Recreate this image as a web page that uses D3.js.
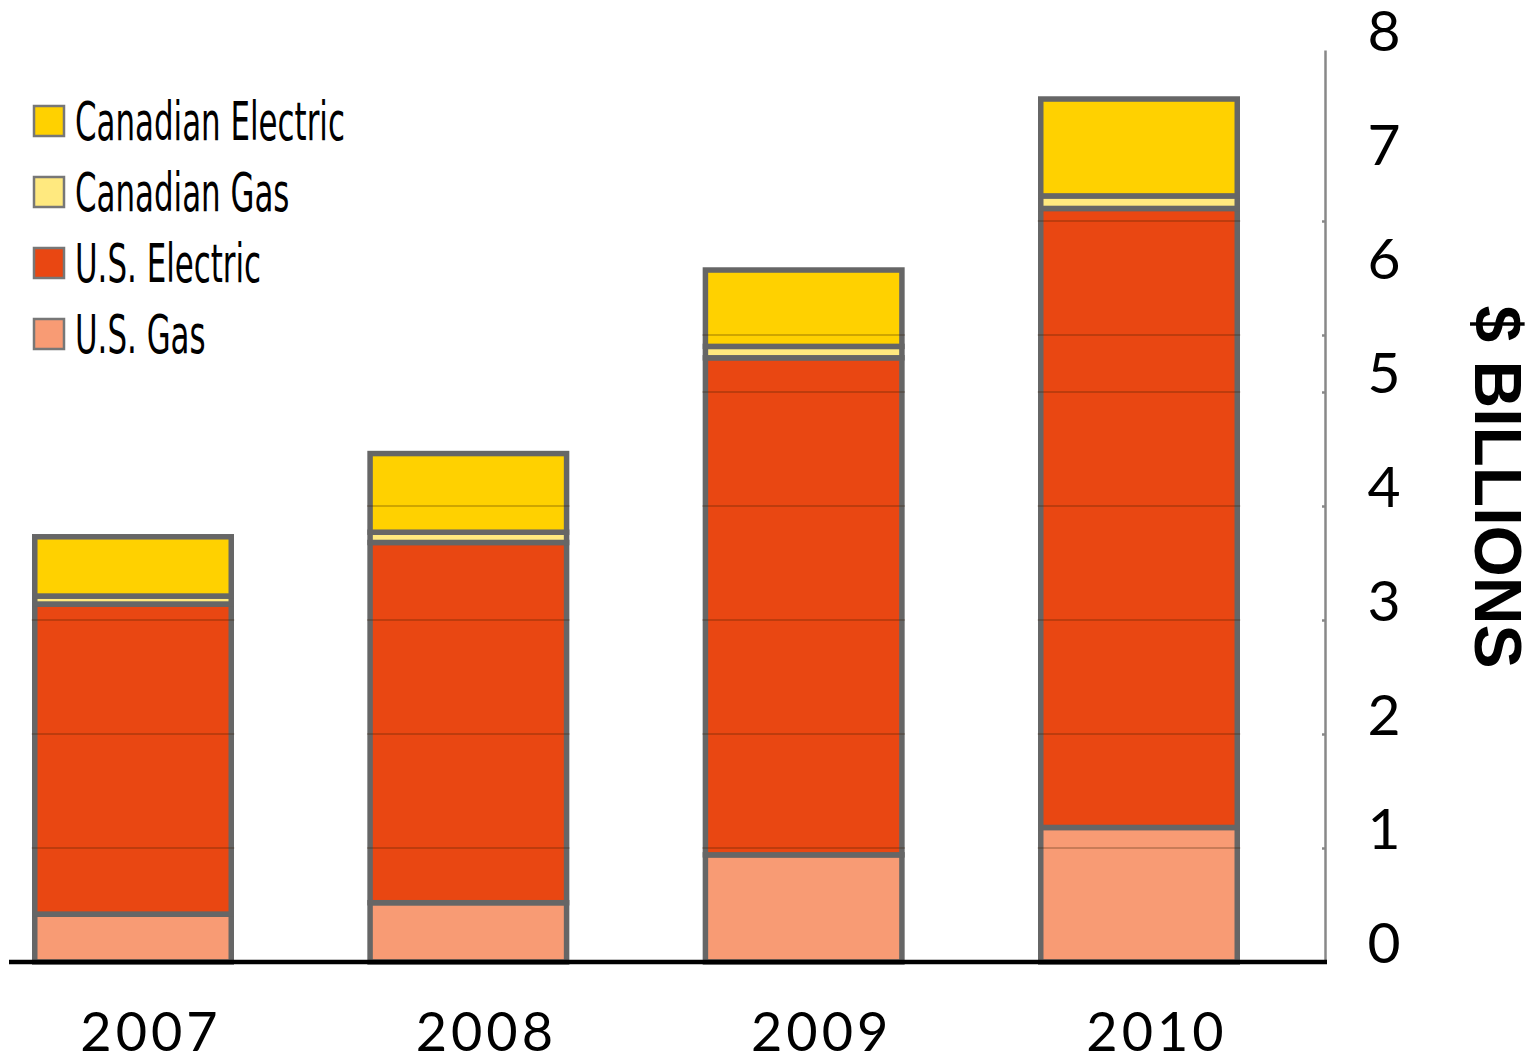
<!DOCTYPE html>
<html>
<head>
<meta charset="utf-8">
<script src="https://cdn.jsdelivr.net/npm/d3@7"></script>
<style>
  html, body { margin: 0; padding: 0; background: #ffffff; }
  svg { display: block; }
</style>
</head>
<body>
<svg id="chart" width="1532" height="1059"></svg>
<script>
// Capital spending by business segment, $ billions
const years = ["2007", "2008", "2009", "2010"];
const seriesKeys = ["U.S. Gas", "U.S. Electric", "Canadian Gas", "Canadian Electric"];
const usGas            = [0.42, 0.52, 0.94, 1.18];
const usElectric       = [2.72, 3.16, 4.36, 5.43];
const canadianGas      = [0.07, 0.09, 0.10, 0.11];
const canadianElectric = [0.52, 0.69, 0.67, 0.85];
const seriesColors = ["#f89b74", "#e94712", "#ffe97f", "#ffd100"];
const legendOrder = ["Canadian Electric", "Canadian Gas", "U.S. Electric", "U.S. Gas"];
const axisLabels = [0, 1, 2, 3, 4, 5, 6, 7, 8];
const axisTickMarks = [0, 1, 2, 3, 4, 5, 5.5, 6.5];
const axisTitle = "$ BILLIONS";

const rows = years.map((yr, i) => ({
  year: yr,
  "U.S. Gas": usGas[i],
  "U.S. Electric": usElectric[i],
  "Canadian Gas": canadianGas[i],
  "Canadian Electric": canadianElectric[i]
}));

const svg = d3.select("#chart");
const color = d3.scaleOrdinal().domain(seriesKeys).range(seriesColors);

const y = d3.scaleLinear().domain([0, 8]).range([962, 50]);
const x = d3.scalePoint().domain(years).range([133, 1139]);
const barW = 196.5;
const axisX = 1325;

const stacked = d3.stack().keys(seriesKeys)(rows);

// stacked bar segments
const gBars = svg.append("g");
stacked.forEach(layer => {
  gBars.selectAll(null)
    .data(layer)
    .join("rect")
    .attr("x", d => x(d.data.year) - barW / 2)
    .attr("y", d => y(d[1]))
    .attr("width", barW)
    .attr("height", d => y(d[0]) - y(d[1]))
    .attr("fill", color(layer.key))
    .attr("stroke", "#666666")
    .attr("stroke-width", 5.5);
});

// grid lines run across the bars only
const gridVals = axisTickMarks.filter(v => v > 0);
const gGrid = svg.append("g");
years.forEach((yr, i) => {
  const total = usGas[i] + usElectric[i] + canadianGas[i] + canadianElectric[i];
  gGrid.selectAll(null)
    .data(gridVals.filter(v => v < total))
    .join("line")
    .attr("x1", x(yr) - barW / 2 - 3)
    .attr("x2", x(yr) + barW / 2 + 3)
    .attr("y1", d => y(d))
    .attr("y2", d => y(d))
    .attr("stroke", "rgba(50,25,0,0.32)")
    .attr("stroke-width", 1.5);
});

// right-hand value axis
const axis = d3.axisLeft(y)
  .tickValues(axisTickMarks)
  .tickSize(3)
  .tickSizeOuter(0)
  .tickFormat("");
const gAxis = svg.append("g")
  .attr("transform", `translate(${axisX},0)`)
  .call(axis);
gAxis.select(".domain").attr("stroke", "#888888").attr("stroke-width", 2.5);
gAxis.selectAll(".tick line").attr("stroke", "#888888").attr("stroke-width", 2.5);

svg.append("g").selectAll("text")
  .data(axisLabels)
  .join("text")
  .attr("x", 1384)
  .attr("y", d => y(d) - 19)
  .attr("dy", "0.35em")
  .attr("text-anchor", "middle")
  .attr("font-family", "Lato, 'Open Sans', sans-serif")
  .attr("font-weight", 400)
  .attr("font-size", 57)
  .attr("fill", "#000")
  .text(d => d);

// baseline
svg.append("line")
  .attr("x1", 9).attr("x2", axisX + 2)
  .attr("y1", y(0)).attr("y2", y(0))
  .attr("stroke", "#000").attr("stroke-width", 4.5);

// year labels
svg.append("g").selectAll("text")
  .data(years)
  .join("text")
  .attr("x", d => x(d) + 18)
  .attr("y", 1051)
  .attr("text-anchor", "middle")
  .attr("font-family", "Lato, 'Open Sans', sans-serif")
  .attr("font-weight", 400)
  .attr("font-size", 54)
  .attr("letter-spacing", 4)
  .attr("fill", "#000")
  .text(d => d);

// axis title
svg.append("text")
  .attr("transform", "translate(1475,487) rotate(90)")
  .attr("text-anchor", "middle")
  .attr("font-family", "'Liberation Sans', Arial, sans-serif")
  .attr("font-weight", 700)
  .attr("font-size", 66)
  .attr("fill", "#000")
  .text(axisTitle);

// legend
const gLegend = svg.append("g");
const legendRows = gLegend.selectAll("g")
  .data(legendOrder)
  .join("g")
  .attr("transform", (d, i) => `translate(34,${121 + i * 71})`);
legendRows.append("rect")
  .attr("x", 0).attr("y", -15)
  .attr("width", 30).attr("height", 30)
  .attr("fill", d => color(d))
  .attr("stroke", "#777777")
  .attr("stroke-width", 2.5);
const legendText = legendRows.append("text")
  .attr("x", 0)
  .attr("y", 19)
  .attr("font-family", "'Liberation Sans Narrow', 'DejaVu Sans Condensed', 'Liberation Sans', sans-serif")
  .attr("font-size", 54)
  .attr("fill", "#000")
  .text(d => d);
// squeeze the labels into a tall condensed look
const widest = d3.max(legendText.nodes(), n => n.getComputedTextLength());
const sx = 270 / widest;
legendText.attr("transform", `translate(41,0) scale(${sx},1)`);
</script>
</body>
</html>
